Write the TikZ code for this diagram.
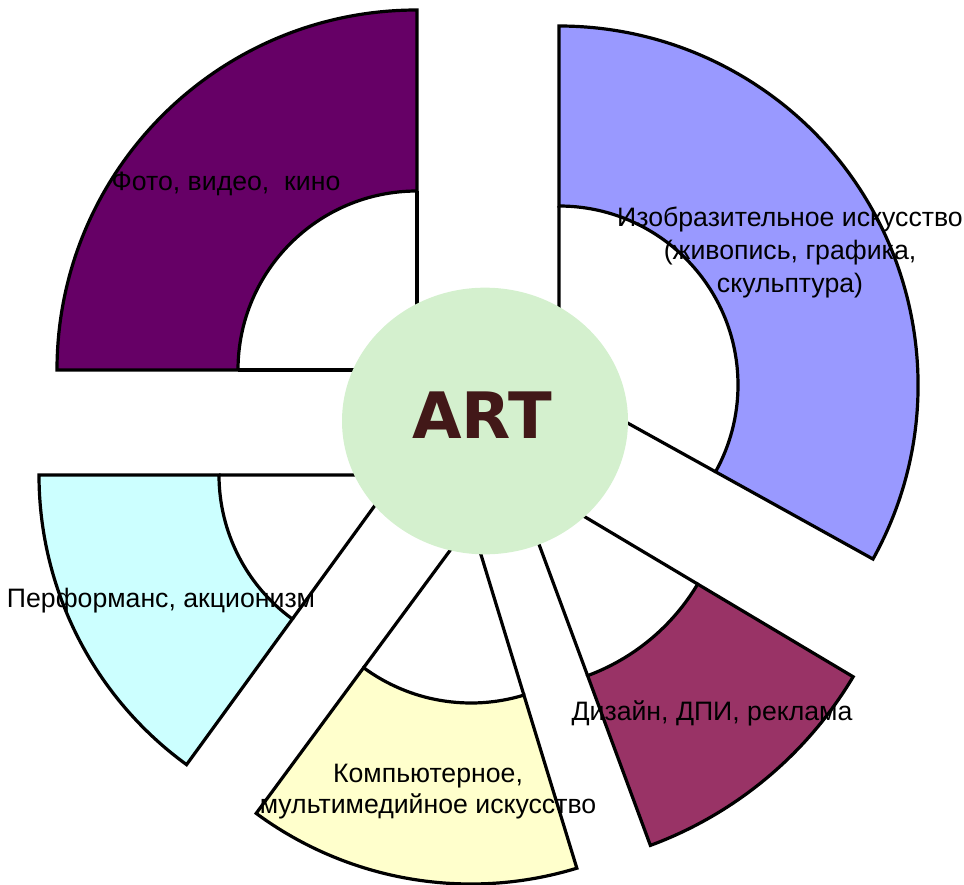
\documentclass[tikz,border=0pt]{standalone}
\usepackage{fontspec}
\setmainfont{Liberation Sans}
\newfontfamily\artfont{DejaVu Sans}
\usepackage{tikz}
\usetikzlibrary{shapes.geometric, positioning, calc}
\definecolor{fotocol}{RGB}{102, 0, 102}
\definecolor{izocol}{RGB}{153, 153, 255}
\definecolor{perfcol}{RGB}{204, 255, 255}
\definecolor{compcol}{RGB}{255, 255, 204}
\definecolor{dizcol}{RGB}{153, 51, 102}
\definecolor{artgreen}{RGB}{212, 240, 206}
\definecolor{artbrown}{RGB}{66, 24, 24}

\begin{document}
\begin{tikzpicture}[
    x=0.75pt, y=0.75pt,
    sector/.style={draw=black, line width=2.4pt},
    spoke/.style={black, line width=2.4pt},
    hub/.style={ellipse, fill=artgreen, minimum width=214.5pt, minimum height=200pt, inner sep=0pt},
    caption/.style={font=\fontsize{20}{25}\selectfont, align=center, anchor=base, inner sep=0pt}
]
\useasboundingbox (0,0) rectangle (964,-885);

% sector centres
\coordinate (cfoto) at (417,-370);
\coordinate (cizo) at (559,-385);
\coordinate (cperf) at (397,-475);
\coordinate (ccomp) at (471,-522);
\coordinate (cdiz) at (513,-474);

% Foto, video, kino
\filldraw[sector, fill=fotocol] ([shift={(cfoto)}]90:179) -- ([shift={(cfoto)}]90:360)
    arc[start angle=90, end angle=180, radius=360] -- ([shift={(cfoto)}]180:179)
    arc[start angle=180, end angle=90, radius=179] -- cycle;
\draw[spoke] (cfoto) -- ([shift={(cfoto)}]90:179) (cfoto) -- ([shift={(cfoto)}]180:179);

% Izobrazitelnoe
\filldraw[sector, fill=izocol] ([shift={(cizo)}]-29:179) -- ([shift={(cizo)}]-29:359)
    arc[start angle=-29, end angle=90, radius=359] -- ([shift={(cizo)}]90:179)
    arc[start angle=90, end angle=-29, radius=179] -- cycle;
\draw[spoke] (cizo) -- ([shift={(cizo)}]-29:179) (cizo) -- ([shift={(cizo)}]90:179);

% Performans
\filldraw[sector, fill=perfcol] ([shift={(cperf)}]180:178) -- ([shift={(cperf)}]180:358)
    arc[start angle=180, end angle=234, radius=358] -- ([shift={(cperf)}]234:178)
    arc[start angle=234, end angle=180, radius=178] -- cycle;
\draw[spoke] (cperf) -- ([shift={(cperf)}]180:178) (cperf) -- ([shift={(cperf)}]234:178);

% Kompyuternoe
\filldraw[sector, fill=compcol] ([shift={(ccomp)}]233.6:181) -- ([shift={(ccomp)}]233.6:362)
    arc[start angle=233.6, end angle=287, radius=362] -- ([shift={(ccomp)}]287:181)
    arc[start angle=287, end angle=233.6, radius=181] -- cycle;
\draw[spoke] (ccomp) -- ([shift={(ccomp)}]233.6:181) (ccomp) -- ([shift={(ccomp)}]287:181);

% Dizain
\filldraw[sector, fill=dizcol] ([shift={(cdiz)}]290.3:215) -- ([shift={(cdiz)}]290.3:396)
    arc[start angle=290.3, end angle=329.2, radius=396] -- ([shift={(cdiz)}]329.2:215)
    arc[start angle=329.2, end angle=290.3, radius=215] -- cycle;
\draw[spoke] (cdiz) -- ([shift={(cdiz)}]290.3:215) (cdiz) -- ([shift={(cdiz)}]329.2:215);

% centre
\node[hub] (art) at (485,-421) {};
\node[text=artbrown, font=\artfont\bfseries\fontsize{48}{50}\selectfont, inner sep=0pt] (artlabel) at (482,-415.5) {ART};

\node[caption] (foto) at (226,-190) {Фото, видео,\ \ кино};
\node[caption, font=\fontsize{20}{24.75}\selectfont] (izo) at (790,-292) {Изобразительное искусство\\(живопись, графика,\\скульптура)};
\node[caption] (perf) at (161,-607) {Перформанс, акционизм};
\node[caption, font=\fontsize{20}{23.25}\selectfont] (comp) at (428,-813) {Компьютерное,\\мультимедийное искусство};
\node[caption] (diz) at (712,-720) {Дизайн, ДПИ, реклама};
\end{tikzpicture}
\end{document}
